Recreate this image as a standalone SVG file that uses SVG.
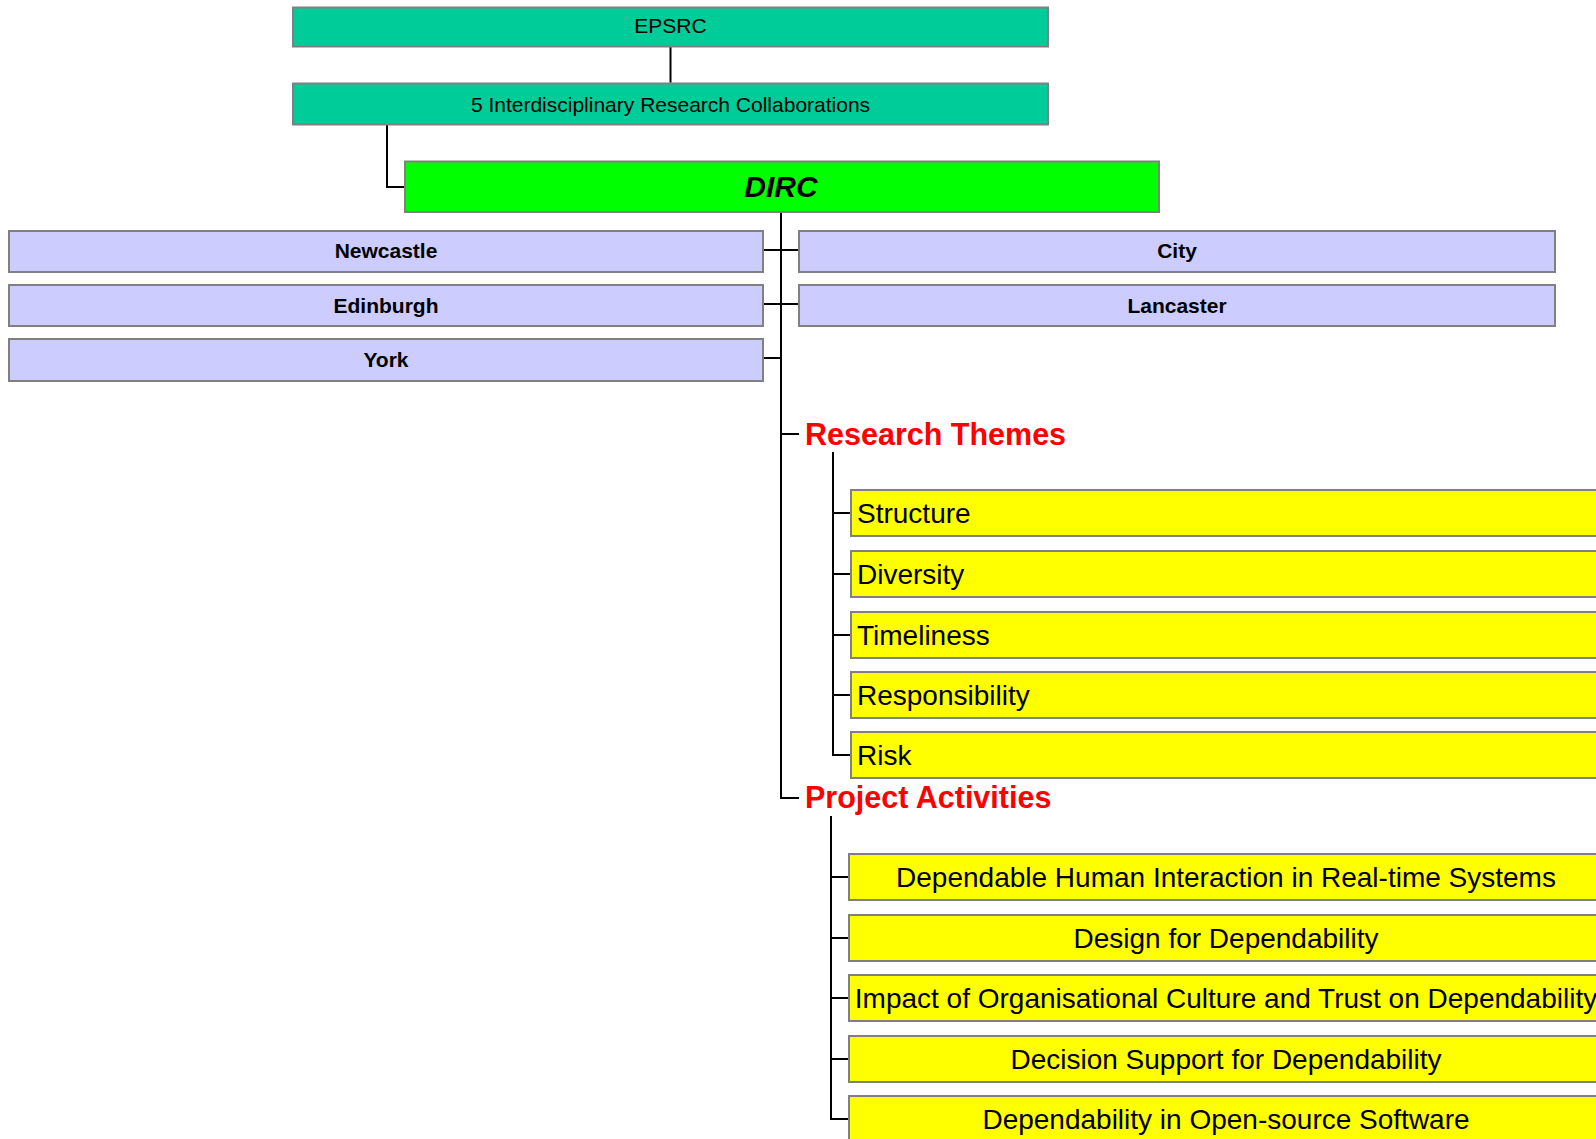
<svg xmlns="http://www.w3.org/2000/svg" width="1596" height="1139" viewBox="0 0 1596 1139">
<style>
.box{stroke:#808080;stroke-width:2}
.teal{fill:#00CC99}
.green{fill:#00FF00}
.lav{fill:#CCCCFF}
.yel{fill:#FFFF00}
.t{font-family:"Liberation Sans",Arial,sans-serif;fill:#000}
.top{font-size:21px;text-anchor:middle}
.uni{font-size:21px;font-weight:bold;text-anchor:middle}
.head{font-size:30.5px;font-weight:bold;fill:#FF0000}
.item{font-size:28px}
.mid{text-anchor:middle}
.conn{stroke:#000;stroke-width:2;fill:none}
</style>
<rect width="1596" height="1139" fill="#fff"/>
<g id="connectors">
<path class="conn" d="M670.5,46.7V82.7"/>
<path class="conn" d="M387,125V187H404"/>
<path class="conn" d="M781,212V798H799"/>
<path class="conn" d="M764,250H798"/>
<path class="conn" d="M764,304H798"/>
<path class="conn" d="M764,358H781"/>
<path class="conn" d="M781,434H799"/>
<path class="conn" d="M833,452V755H850"/>
<path class="conn" d="M833,513H850"/>
<path class="conn" d="M833,574H850"/>
<path class="conn" d="M833,635H850"/>
<path class="conn" d="M833,695H850"/>
<path class="conn" d="M831,816V1119H848"/>
<path class="conn" d="M831,877H848"/>
<path class="conn" d="M831,938H848"/>
<path class="conn" d="M831,998H848"/>
<path class="conn" d="M831,1059H848"/>
</g>
<g id="epsrc"><rect class="box teal" x="293" y="7.5" width="755" height="39"/><text class="t top" x="670.5" y="33.3">EPSRC</text></g>
<g id="irc"><rect class="box teal" x="293" y="83.5" width="755" height="41"/><text class="t top" x="670.5" y="111.5">5 Interdisciplinary Research Collaborations</text></g>
<g id="dirc"><rect class="box green" x="405" y="161.5" width="754" height="50.5"/><text class="t" x="781" y="196.5" font-size="30" font-weight="bold" font-style="italic" text-anchor="middle">DIRC</text></g>
<g id="newcastle"><rect class="box lav" x="9" y="231" width="754" height="41"/><text class="t uni" x="386" y="258.3">Newcastle</text></g>
<g id="city"><rect class="box lav" x="799" y="231" width="756" height="41"/><text class="t uni" x="1177" y="258.3">City</text></g>
<g id="edinburgh"><rect class="box lav" x="9" y="285" width="754" height="41"/><text class="t uni" x="386" y="312.7">Edinburgh</text></g>
<g id="lancaster"><rect class="box lav" x="799" y="285" width="756" height="41"/><text class="t uni" x="1177" y="312.7">Lancaster</text></g>
<g id="york"><rect class="box lav" x="9" y="339" width="754" height="42"/><text class="t uni" x="386" y="366.7">York</text></g>
<g id="research-themes"><text class="t head" x="805" y="445">Research Themes</text></g>
<g id="structure"><rect class="box yel" x="851" y="490" width="760" height="46"/><text class="t item" x="857" y="523">Structure</text></g>
<g id="diversity"><rect class="box yel" x="851" y="551" width="760" height="46"/><text class="t item" x="857" y="584">Diversity</text></g>
<g id="timeliness"><rect class="box yel" x="851" y="612" width="760" height="46"/><text class="t item" x="857" y="645">Timeliness</text></g>
<g id="responsibility"><rect class="box yel" x="851" y="672" width="760" height="46"/><text class="t item" x="857" y="705">Responsibility</text></g>
<g id="risk"><rect class="box yel" x="851" y="732" width="760" height="46"/><text class="t item" x="857" y="765">Risk</text></g>
<g id="project-activities"><text class="t head" x="805" y="808">Project Activities</text></g>
<g id="pa1"><rect class="box yel" x="849" y="854" width="756" height="46"/><text class="t item mid" x="1226" y="887">Dependable Human Interaction in Real-time Systems</text></g>
<g id="pa2"><rect class="box yel" x="849" y="915" width="756" height="46"/><text class="t item mid" x="1226" y="948">Design for Dependability</text></g>
<g id="pa3"><rect class="box yel" x="849" y="975" width="756" height="46"/><text class="t item mid" x="1226" y="1008">Impact of Organisational Culture and Trust on Dependability</text></g>
<g id="pa4"><rect class="box yel" x="849" y="1036" width="756" height="46"/><text class="t item mid" x="1226" y="1069">Decision Support for Dependability</text></g>
<g id="pa5"><rect class="box yel" x="849" y="1096" width="756" height="46"/><text class="t item mid" x="1226" y="1129">Dependability in Open-source Software</text></g>
</svg>
